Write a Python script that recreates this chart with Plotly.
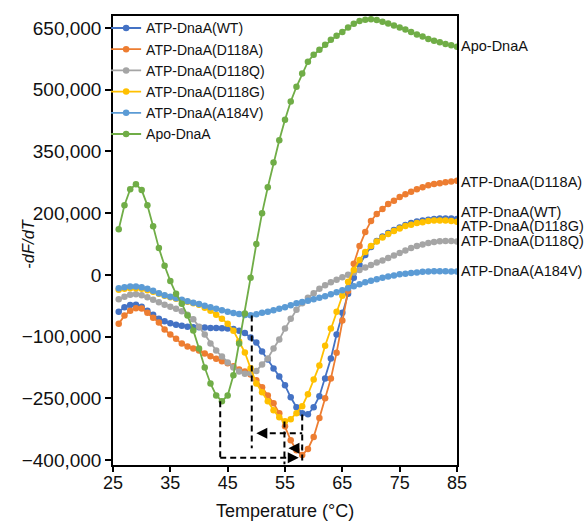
import plotly.graph_objects as go

# Temperatures (°C)
temps = list(range(26, 86))

# -dF/dT values, in thousands (axis units)
wt_k = [-39.5, -28.6, -23.3, -22.6, -27.4, -37, -46.8, -56.4, -62.5, -67.3,
        -71, -73.4, -75.8, -77, -77.5, -78.2, -79, -79.4, -80, -80.6,
        -81.8, -85.5, -91.5, -102.4, -114.5, -136.3, -155.6, -177.4, -196.7, -218.5,
        -247.5, -271.7, -286.2, -288.7, -271.7, -245, -201.6, -153.2, -95, -42,
        4, 42.7, 74, 98.4, 117.7, 132, 143, 151.6, 159, 165,
        171, 175.8, 179.4, 181.8, 184, 185.5, 186.7, 186.7, 186.7, 185.5]
d118a_k = [-68.5, -49, -37, -31, -32, -42, -54, -66, -83, -95,
           -105, -117, -124, -129, -134, -141, -148, -154, -160, -165,
           -172, -180, -185, -192, -206, -223, -243, -262, -286, -318,
           -352, -376, -388, -373, -344, -298, -250, -202, -139, -61,
           11, 77, 120, 154, 181, 198, 210, 222, 230, 239,
           246, 252, 258, 263, 268, 271, 272.5, 275, 277, 278.5]
d118q_k = [-9.3, -3.2, 1.6, 2.8, 0.4, -4.4, -10.5, -16.5, -22.6, -27.4,
           -32.2, -38.3, -46.8, -57.6, -75.8, -95.1, -116.9, -133.8, -148.4, -162.9,
           -175, -184.6, -190, -189, -183.4, -167.7, -153.2, -129, -107.2, -80.6,
           -56.4, -34.7, -19, -5.6, 5.2, 16.1, 24.6, 31.9, 37.9, 44,
           50, 56, 62.1, 68.1, 74.2, 80.2, 85.1, 91.1, 97.2, 103.2,
           109.3, 115.3, 120.2, 123.8, 127.4, 129.8, 131.5, 132.2, 132.2, 131]
d118g_k = [13.7, 16.1, 17.3, 17.3, 16.1, 12.5, 8.9, 4, -0.8, -4.4,
           -8.1, -11.7, -15.3, -18.9, -22.6, -29.8, -37.1, -46.8, -56.4, -68.5,
           -85.5, -112, -138.7, -177, -213.7, -235.4, -257, -279, -296, -305.6,
           -300.8, -286, -269, -240, -204, -170, -122, -80.6, -39.5, -0.8,
           33, 62, 86, 105.6, 120, 131, 140.7, 149, 156.4, 162.5,
           168.5, 172, 176, 178, 180.6, 182, 182, 182, 181, 179]
a184v_k = [17.3, 20.2, 21.7, 21.7, 19.8, 16.1, 11.3, 5.2, 0.4, -3.2,
           -6.8, -10.5, -14.1, -17.7, -20.9, -25, -28.6, -32.2, -35.9, -39.5,
           -42.6, -45.1, -47.5, -48, -45.6, -42, -39.5, -35.9, -32.2, -28.6,
           -23.8, -18.9, -16, -12.9, -9.3, -5.6, -2, 2.8, 7.7, 12.5,
           17.3, 22.2, 27, 31.9, 35.5, 39.1, 42.7, 45.9, 48.3, 51.2,
           52.9, 54.8, 56, 57.3, 58, 58.5, 58.5, 58.5, 58, 58]
apo_k = [161, 219, 258, 270, 256, 219, 168, 115, 72, 35,
         4, -20, -49, -85, -129, -175, -214, -243, -257, -243,
         -194, -117, -44, 43, 125, 200, 263, 323, 377, 427,
         471, 507, 539, 568, 585, 597, 609, 621, 631, 640,
         651, 660, 667, 670, 671, 669, 665, 661, 656, 651,
         646, 640, 634, 629, 623, 619, 615, 611, 608, 604]

series_names = ["ATP-DnaA(WT)", "ATP-DnaA(D118A)", "ATP-DnaA(D118Q)",
                "ATP-DnaA(D118G)", "ATP-DnaA(A184V)", "Apo-DnaA"]
series_vals = [wt_k, d118a_k, d118q_k, d118g_k, a184v_k, apo_k]
colors = ["#4472C4", "#ED7D31", "#A5A5A5", "#FFC000", "#5B9BD5", "#70AD47"]

# y ticks
ytick_vals = [-400000, -250000, -100000, 50000, 200000, 350000, 500000, 650000]
ytick_text = ["\u2212400,000", "\u2212250,000", "\u2212100,000", "0",
              "200,000", "350,000", "500,000", "650,000"]
xtick_vals = [25, 35, 45, 55, 65, 75, 85]

# End labels (text, y position in axis units)
end_labels = [("Apo-DnaA", 606000), ("ATP-DnaA(D118A)", 275000),
              ("ATP-DnaA(WT)", 202000), ("ATP-DnaA(D118G)", 168500),
              ("ATP-DnaA(D118Q)", 132000), ("ATP-DnaA(A184V)", 59700)]

# Melting-point guide lines
vlines = [(43.7, -257000, -394500), (49.2, -49000, -371000),
          (54.9, -306000, -410000), (58.0, -289000, -410000)]
hlines = [(-335000, 50.6, 58.0), (-371600, 56.1, 58.0), (-394500, 43.7, 56.8)]
arrows = [(50.0, -335000, 51.2), (55.6, -371600, 56.8), (57.4, -394500, 56.2)]

FONT = "Arial, Liberation Sans, sans-serif"

fig = go.Figure()
for name, vals, col in zip(series_names, series_vals, colors):
    fig.add_trace(go.Scatter(
        x=temps, y=[v * 1000 for v in vals], name=name, mode="lines+markers",
        line=dict(color=col, width=1.8), marker=dict(color=col, size=6.5)))

for x, y0, y1 in vlines:
    fig.add_shape(type="line", x0=x, x1=x, y0=y0, y1=y1, xref="x", yref="y",
                  line=dict(color="black", width=2, dash="6px,4px"))
for y, x0, x1 in hlines:
    fig.add_shape(type="line", x0=x0, x1=x1, y0=y, y1=y, xref="x", yref="y",
                  line=dict(color="black", width=2, dash="6px,4px"))
for x, y, ax in arrows:
    fig.add_annotation(x=x, y=y, ax=ax, ay=y, xref="x", yref="y", axref="x", ayref="y",
                       text="", showarrow=True, arrowhead=2, arrowsize=1.1,
                       arrowwidth=2, arrowcolor="black")

for txt, y in end_labels:
    fig.add_annotation(x=85, y=y, xref="x", yref="y", text=txt, showarrow=False,
                       xanchor="left", yanchor="middle", xshift=2,
                       font=dict(family=FONT, size=14.5, color="#111"))

fig.add_annotation(x=-0.247, y=0.493, xref="paper", yref="paper", text="<i>-dF/dT</i>",
                   textangle=-90, showarrow=False, xanchor="center", yanchor="middle",
                   font=dict(family=FONT, size=16.5, color="#111"))
fig.add_annotation(x=0.5, y=-0.102, xref="paper", yref="paper", text="Temperature (°C)",
                   showarrow=False, yanchor="middle", font=dict(family=FONT, size=18, color="#111"))

fig.update_layout(
    width=587, height=524,
    margin=dict(l=113, r=130, t=14, b=59),
    paper_bgcolor="white", plot_bgcolor="white",
    font=dict(family=FONT, color="#111"),
    showlegend=True,
    legend=dict(x=-0.02, y=1.008, xanchor="left", yanchor="top",
                bgcolor="rgba(0,0,0,0)", font=dict(family=FONT, size=14, color="#111"),
                tracegroupgap=0),
    xaxis=dict(range=[25, 85], tickvals=xtick_vals, ticks="outside", ticklen=5,
               tickwidth=1.5, tickcolor="black", showline=True, linecolor="black",
               linewidth=1.5, mirror=True, showgrid=False, zeroline=False,
               ticklabelstandoff=-4,
               tickfont=dict(family=FONT, size=18, color="#111")),
    yaxis=dict(range=[-412000, 679000], tickvals=ytick_vals, ticktext=ytick_text,
               ticks="outside", ticklen=6, tickwidth=1.5, tickcolor="black",
               showline=True, linecolor="black", linewidth=1.5, mirror=True,
               showgrid=False, zeroline=False,
               tickfont=dict(family=FONT, size=19, color="#111")),
)

fig.write_html("out.html")
